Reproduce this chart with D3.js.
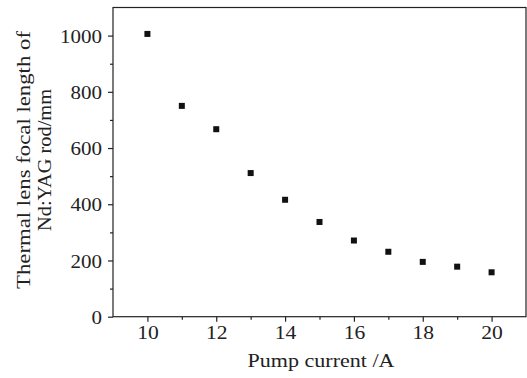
<!DOCTYPE html>
<html><head><meta charset="utf-8">
<script src="https://cdn.jsdelivr.net/npm/d3@7"></script>
<style>body{margin:0;background:#fff}svg{display:block}text{font-family:"Liberation Serif","Times New Roman",serif;fill:#222}</style>
</head><body>
<script>
const current = [10,11,12,13,14,15,16,17,18,19,20];
const focal = [1006,750,667,511,416,337,271,231,195,178,158];
const xTicks = [10,12,14,16,18,20];
const yTicks = [0,200,400,600,800,1000];
const xMinor = [11,13,15,17,19];
const yMinor = [100,300,500,700,900];

const W=527,H=378;
const m={l:113,t:7.5,r:1,b:61.3};
const svg=d3.select("body").append("svg").attr("width",W).attr("height",H);
const x=d3.scaleLinear().domain([9,21]).range([m.l,W-m.r]);
const y=d3.scaleLinear().domain([0,1100]).range([H-m.b,m.t]);
const g=svg.append("g");
const col="#222";

// horizontally stretch a text element about its anchor point to a target length
function stretch(node, target){
  const len=node.getComputedTextLength();
  const s=target/len;
  const ax=+node.getAttribute("x")||0;
  node.setAttribute("transform",`translate(${ax},0) scale(${s},1) translate(${-ax},0)`);
}

g.append("rect").attr("x",x(9)).attr("y",y(1100)).attr("width",x(21)-x(9)).attr("height",y(0)-y(1100))
 .attr("fill","none").attr("stroke",col).attr("stroke-width",1.2);

const xa=g.append("g").attr("transform",`translate(0,${y(0)})`)
 .call(d3.axisBottom(x).tickValues(xTicks).tickSize(5).tickPadding(2).tickFormat(d3.format("d")));
const xm=g.append("g").attr("transform",`translate(0,${y(0)})`)
 .call(d3.axisBottom(x).tickValues(xMinor).tickSize(3).tickFormat(""));
const ya=g.append("g").attr("transform",`translate(${x(9)},0)`)
 .call(d3.axisLeft(y).tickValues(yTicks).tickSize(5).tickPadding(6).tickFormat(d3.format("d")));
const ym=g.append("g").attr("transform",`translate(${x(9)},0)`)
 .call(d3.axisLeft(y).tickValues(yMinor).tickSize(3).tickFormat(""));
[xa,xm,ya,ym].forEach(a=>{a.attr("font-family",null).attr("font-size",null);a.select(".domain").remove();a.selectAll("line").attr("stroke",col).attr("stroke-width",1.2);});
xa.selectAll("text").attr("font-size",19).attr("dy","0.71em").attr("y",9)
 .each(function(d){stretch(this,String(d).length*10.8);});
ya.selectAll("text").attr("font-size",19).attr("dy","0.35em")
 .each(function(d){stretch(this,String(d).length*10.5);});

g.selectAll("rect.pt").data(current).enter().append("rect").attr("class","pt")
 .attr("x",(d)=>x(d)-3).attr("y",(d,i)=>y(focal[i])-3).attr("width",6).attr("height",6).attr("fill","#111");

const xt=svg.append("g").attr("transform","translate(321,366.5)");
xt.append("text").attr("x",0).attr("text-anchor","middle").attr("font-size",18).text("Pump current /A")
 .each(function(){stretch(this,147);});
const yt=svg.append("g").attr("transform",`translate(29.5,160) rotate(-90)`);
yt.append("text").attr("x",0).attr("y",0).attr("text-anchor","middle").attr("font-size",19).text("Thermal lens focal length of")
 .each(function(){stretch(this,258);});
yt.append("text").attr("x",0).attr("y",22).attr("text-anchor","middle").attr("font-size",19).text("Nd:YAG rod/mm")
 .each(function(){stretch(this,142);});
</script>
</body></html>
